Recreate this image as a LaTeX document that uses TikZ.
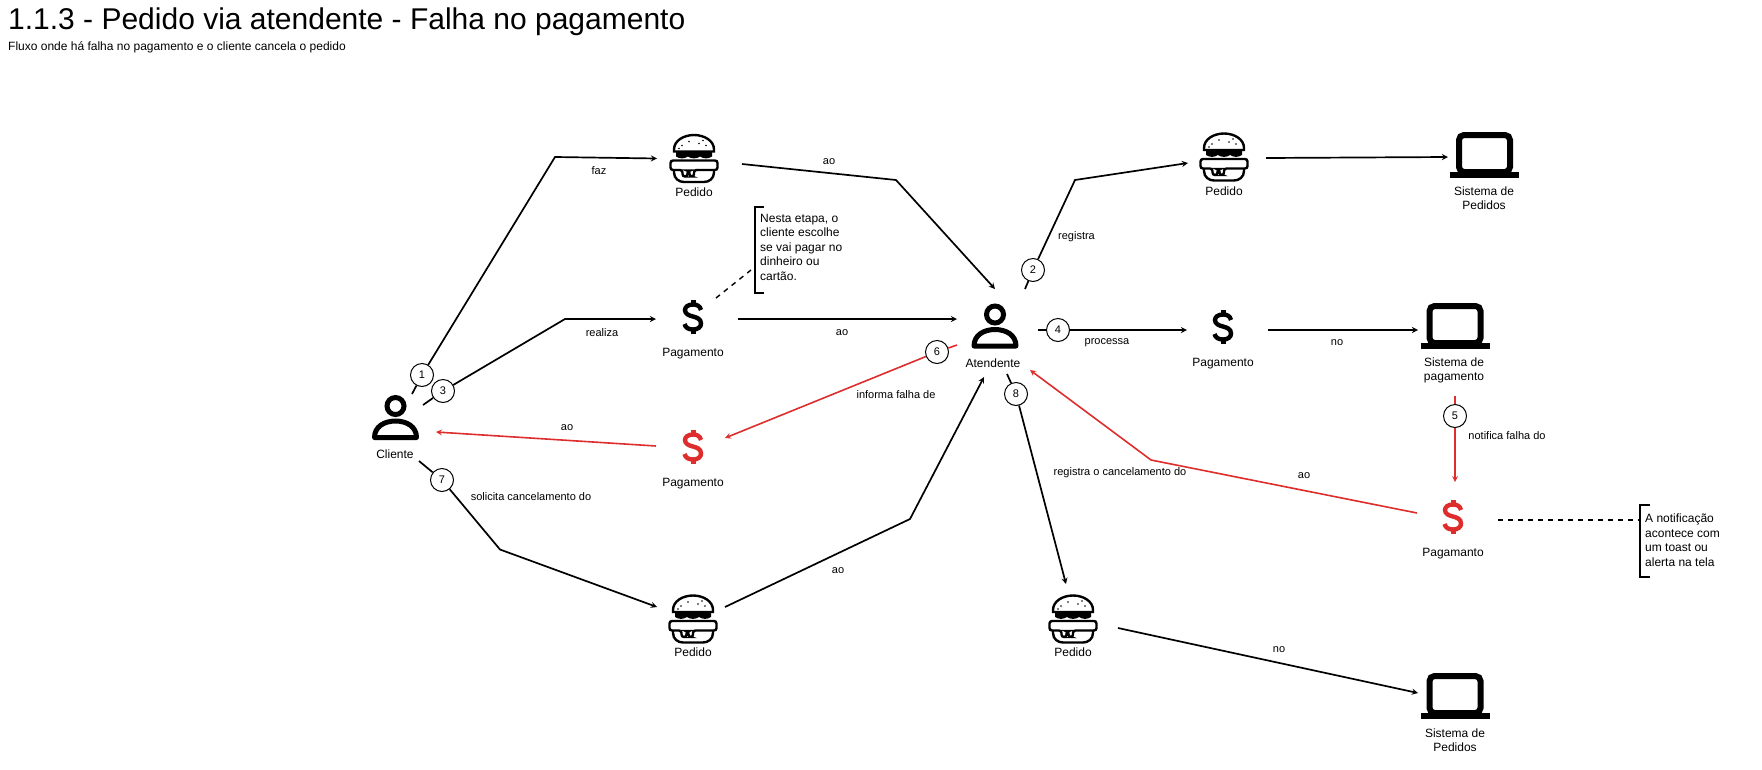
\documentclass[tikz,border=0pt]{standalone}
\usepackage{fontspec}
\setmainfont{Liberation Sans}
\usepackage{tikz}
\usetikzlibrary{arrows,shapes,positioning}
\definecolor{flowred}{RGB}{221,45,45}
\definecolor{flowline}{RGB}{0,0,0}
\tikzstyle{arrow} = [line width=1.7pt,->,>=stealth,color=flowline]
\tikzstyle{redarrow} = [line width=1.6pt,->,>=stealth,color=flowred]
\tikzstyle{noteline} = [line width=1.4pt,dashed,dash pattern=on 5pt off 5pt,color=flowline]
\tikzstyle{bracketline} = [line width=2pt,color=black]
\tikzstyle{stepnode} = [circle, minimum size=23pt, inner sep=0pt, draw=black, fill=white, line width=1pt, font=\fontsize{11}{13}\selectfont]
\tikzstyle{caption} = [inner sep=0pt, align=center, font=\fontsize{12}{14}\selectfont]
\tikzstyle{edgetext} = [inner sep=0pt, font=\fontsize{11}{13}\selectfont]
\tikzstyle{notetext} = [inner sep=0pt, align=left, anchor=north west, font=\fontsize{12}{14.4}\selectfont]
\tikzset{
  personicon/.style={minimum size=54pt, inner sep=0pt, path picture={
    \begin{scope}[shift={(path picture bounding box.center)}]
      \draw[line width=5pt] (0,-11.5) circle (8.5pt);
      \draw[line width=5pt, line join=round] (-21,20) -- (21,20) .. controls (21,9) and (11,3.5) .. (0,3.5) .. controls (-11,3.5) and (-21,9) .. (-21,20) -- cycle;
    \end{scope}}},
  laptopicon/.style={minimum size=76pt, inner sep=0pt, path picture={
    \begin{scope}[shift={(path picture bounding box.center)}]
      \draw[line width=6pt, rounded corners=5pt] (-25.5,-20) rectangle (25.5,17);
      \fill (-34.5,17) rectangle (34.5,23);
    \end{scope}}},
  dollaricon/.style={minimum width=28pt, minimum height=40pt, inner sep=0pt, path picture={
    \begin{scope}[shift={(path picture bounding box.center)}, color=#1]
      \draw[line width=4.4pt] (8,-7) .. controls (7,-11) and (4,-12.5) .. (0,-12.5) .. controls (-5,-12.5) and (-8,-10) .. (-8,-7) .. controls (-8,-3) and (-4,-1.5) .. (0,-0.5) .. controls (4,0.5) and (8,2) .. (8,6.5) .. controls (8,10) and (5,12.5) .. (0,12.5) .. controls (-4,12.5) and (-7.5,11) .. (-8.5,7);
      \fill (-2.5,-17) rectangle (2.5,-12);
      \fill (-2.5,12) rectangle (2.5,17);
    \end{scope}}},
  dollaricon/.default=black,
  burgericon/.style={minimum size=54pt, inner sep=0pt, path picture={
    \begin{scope}[shift={(path picture bounding box.center)}]
      \draw[line width=2.4pt] (-20,-7) -- (-20,-9) .. controls (-20,-18) and (-10,-23.5) .. (0,-23.5) .. controls (10,-23.5) and (20,-18) .. (20,-9) -- (20,-7) -- cycle;
      \foreach \dotx/\doty in {-12/-13,-5/-17,5/-15,12/-13,-15/-10,9/-18}
        \fill (\dotx,\doty) circle (0.9pt);
      \fill (-18,-7) -- (18,-7) -- (18,-2) .. controls (14,0.5) and (10,0.5) .. (6,-2) .. controls (3,0.5) and (-3,0.5) .. (-6,-2) .. controls (-10,0.5) and (-14,0.5) .. (-18,-2) -- cycle;
      \draw[line width=2.4pt] (-20,12) -- (-20,14) .. controls (-20,20) and (-15,23.5) .. (-10,23.5) -- (10,23.5) .. controls (15,23.5) and (20,20) .. (20,14) -- (20,12);
      \draw[line width=2.4pt, fill=white, rounded corners=2.5pt] (-23.5,2) -- (23.5,2) -- (23.5,11.5) -- (0,11.5) -- (0,18) -- (-4.5,18) -- (-4.5,12) -- (-6.5,12) -- (-6.5,18) -- (-11.5,18) -- (-11.5,11.5) -- (-23.5,11.5) -- cycle;
    \end{scope}}}
}

\begin{document}
\begin{tikzpicture}[x=1pt,y=-1pt]
\useasboundingbox (0,0) rectangle (1762,769);
% Title
\node[inner sep=0pt, anchor=west, font=\fontsize{30}{34}\selectfont] (title) at (8,22) {1.1.3 - Pedido via atendente - Falha no pagamento};
\node[inner sep=0pt, anchor=west, font=\fontsize{12}{14}\selectfont] (subtitle) at (8,47) {Fluxo onde há falha no pagamento e o cliente cancela o pedido};

% Icons
\node[personicon] (cliente) at (395.5,417.5) {};
\node[personicon] (atendente) at (995,326) {};
\node[burgericon] (pedidoA) at (694,158.5) {};
\node[burgericon] (pedidoB) at (1224,157) {};
\node[burgericon] (pedidoC) at (693,619) {};
\node[burgericon] (pedidoD) at (1073,619) {};
\node[dollaricon] (pagA) at (693,317) {};
\node[dollaricon=flowred] (pagB) at (693,447) {};
\node[dollaricon] (pagC) at (1223,327) {};
\node[dollaricon=flowred] (pagD) at (1453,517) {};
\node[laptopicon] (sisA) at (1484.5,155) {};
\node[laptopicon] (sisB) at (1455,326) {};
\node[laptopicon] (sisC) at (1455,696) {};

% Captions
\node[caption] (clienteCap) at (395,454) {Cliente};
\node[caption] (atendenteCap) at (993,363) {Atendente};
\node[caption] (pedidoACap) at (694,192.5) {Pedido};
\node[caption] (pedidoBCap) at (1224,191) {Pedido};
\node[caption] (pedidoCCap) at (693,652) {Pedido};
\node[caption] (pedidoDCap) at (1073,652) {Pedido};
\node[caption] (pagACap) at (693,353.5) {Pagamento};
\node[caption] (pagBCap) at (693,484) {Pagamento};
\node[caption] (pagCCap) at (1223,363.5) {Pagamento};
\node[caption] (pagDCap) at (1453,554) {Pagamanto};
\node[caption] (sisACap) at (1484,198) {Sistema de\\Pedidos};
\node[caption] (sisBCap) at (1454,370) {Sistema de\\pagamento};
\node[caption] (sisCCap) at (1455,740) {Sistema de\\Pedidos};

% Steps
\node[stepnode] (stepA) at (422,375) {1};
\node[stepnode] (stepB) at (1033,270) {2};
\node[stepnode] (stepC) at (443,391) {3};
\node[stepnode] (stepD) at (1058,330) {4};
\node[stepnode] (stepE) at (1455,416) {5};
\node[stepnode] (stepF) at (937,352) {6};
\node[stepnode] (stepG) at (442,480) {7};
\node[stepnode] (stepH) at (1016,394) {8};

% Notes
\node[notetext] (noteA) at (760,214) {Nesta etapa, o\\cliente escolhe\\se vai pagar no\\dinheiro ou\\cartão.};
\node[notetext] (noteB) at (1645,514) {A notificação\\acontece com\\um toast ou\\alerta na tela};
\draw[bracketline] ([shift={(4,-7)}]noteA.north west) -- ++(-9,0) -- ++(0,86) -- ++(9,0);
\draw[bracketline] ([shift={(5,-9)}]noteB.north west) -- ++(-10,0) -- ++(0,72) -- ++(10,0);

% Bends
\coordinate (bendA) at (555,157);
\coordinate (bendB) at (565,319);
\coordinate (bendC) at (896,180);
\coordinate (bendD) at (1075,180);
\coordinate (bendE) at (1151,460);
\coordinate (bendF) at (500,549.5);
\coordinate (bendG) at (910,519);

% Black flow
\draw[arrow] ([shift={(16.5,-23.5)}]cliente.center) -- (stepA) -- (bendA) -- ([shift={(-37,0)}]pedidoA.center);
\draw[arrow] ([shift={(48,5.5)}]pedidoA.center) -- (bendC) -- ([shift={(0,-37)}]atendente.center);
\draw[arrow] ([shift={(30,-37)}]atendente.center) -- (stepB) -- (bendD) -- ([shift={(-36,6)}]pedidoB.center);
\draw[arrow] ([shift={(42,1)}]pedidoB.center) -- ([shift={(-36.5,2)}]sisA.center);
\draw[arrow] ([shift={(27.5,-12.5)}]cliente.center) -- (stepC) -- (bendB) -- ([shift={(-37,2)}]pagA.center);
\draw[arrow] ([shift={(45,2)}]pagA.center) -- ([shift={(-38,-7)}]atendente.center);
\draw[arrow] ([shift={(43,4)}]atendente.center) -- (stepD) -- ([shift={(-36,3)}]pagC.center);
\draw[arrow] ([shift={(45,3)}]pagC.center) -- ([shift={(-37,4)}]sisB.center);
\draw[arrow] ([shift={(23.5,43.5)}]cliente.center) -- (stepG) -- (bendF) -- ([shift={(-36,-12)}]pedidoC.center);
\draw[arrow] ([shift={(32,-12)}]pedidoC.center) -- (bendG) -- ([shift={(-11,51)}]atendente.center);
\draw[arrow] ([shift={(12,48)}]atendente.center) -- (stepH) -- ([shift={(-7,-35)}]pedidoD.center);
\draw[arrow] ([shift={(45,9)}]pedidoD.center) -- ([shift={(-37,-3)}]sisC.center);

% Red flow
\draw[redarrow] ([shift={(0,70)}]sisB.center) -- (stepE) -- ([shift={(2,-35)}]pagD.center);
\draw[redarrow] ([shift={(-36,-4)}]pagD.center) -- (bendE) -- ([shift={(35,44)}]atendente.center);
\draw[redarrow] ([shift={(-38,19)}]atendente.center) -- (stepF) -- ([shift={(32,-9)}]pagB.center);
\draw[redarrow] ([shift={(-37,-1)}]pagB.center) -- ([shift={(40.5,14.5)}]cliente.center);

% Dashed links to the notes
\draw[noteline] ([shift={(23,-19)}]pagA.center) -- ([shift={(-9,56)}]noteA.north west);
\draw[noteline] ([shift={(45,3)}]pagD.center) -- ([shift={(-6,6)}]noteB.north west);

% Edge labels
\node[edgetext] (lblFaz) at (599,170.5) {faz};
\node[edgetext] (lblRealiza) at (602,332.5) {realiza};
\node[edgetext] (lblAoA) at (829,161.5) {ao};
\node[edgetext] (lblAoB) at (842,332.5) {ao};
\node[edgetext] (lblRegistra) at (1076.5,236.5) {registra};
\node[edgetext] (lblProcessa) at (1107,342.5) {processa};
\node[edgetext] (lblNoA) at (1337,342.5) {no};
\node[edgetext] (lblNotifica) at (1507,436) {notifica falha do};
\node[edgetext] (lblAoC) at (1304,475.5) {ao};
\node[edgetext] (lblInforma) at (896,395) {informa falha de};
\node[edgetext] (lblAoD) at (567,427.5) {ao};
\node[edgetext] (lblSolicita) at (531,497) {solicita cancelamento do};
\node[edgetext] (lblAoE) at (838,571) {ao};
\node[edgetext] (lblCancel) at (1120,473) {registra o cancelamento do};
\node[edgetext] (lblNoB) at (1279,649.5) {no};
\end{tikzpicture}
\end{document}
